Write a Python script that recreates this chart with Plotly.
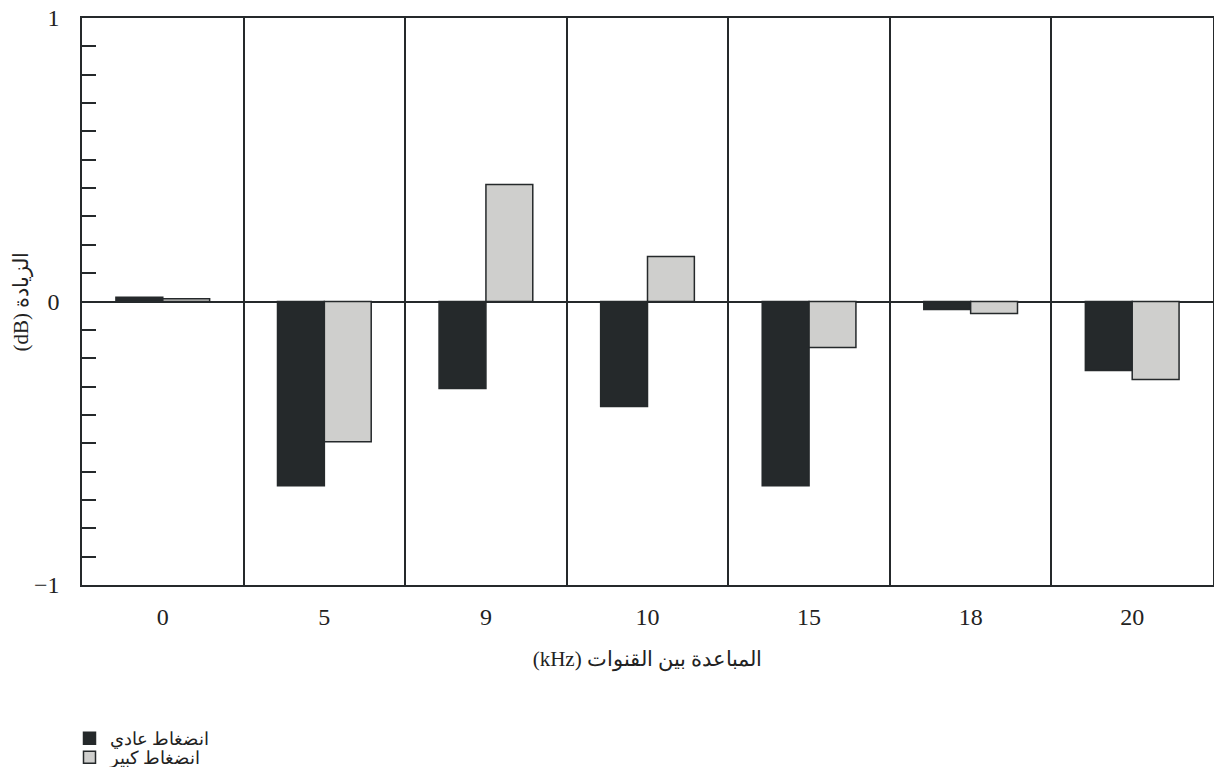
import plotly.graph_objects as go

categories = ["0", "5", "9", "10", "15", "18", "20"]
normal_compression = [0.015, -0.65, -0.307, -0.37, -0.65, -0.028, -0.243]
high_compression = [0.01, -0.495, 0.413, 0.159, -0.162, -0.042, -0.275]
series_names = ["انضغاط عادي", "انضغاط كبير"]
x_title = "المباعدة بين القنوات (kHz)"
y_title = "الزيادة (dB)"

RLE, PDF = "\u202B", "\u202C"

dark = "#25292b"
light = "#cfcfcd"
font_family = "Liberation Serif, DejaVu Serif, serif"

fig = go.Figure()
fig.add_trace(go.Bar(x=categories, y=normal_compression, name=RLE + series_names[0] + PDF,
                     legend="legend",
                     marker=dict(color=dark, line=dict(color=dark, width=1.5))))
fig.add_trace(go.Bar(x=categories, y=high_compression, name=RLE + series_names[1] + PDF,
                     legend="legend2",
                     marker=dict(color=light, line=dict(color=dark, width=1.5))))

W, H = 1214, 767
ML, MR, MT, MB = 82, 1, 18, 182
PW, PH = W - ML - MR, H - MT - MB
leg_common = dict(xanchor="left", yanchor="top", font=dict(size=18), bgcolor="rgba(0,0,0,0)")

fig.update_layout(
    width=W, height=H,
    margin=dict(l=ML, r=MR, t=MT, b=MB, autoexpand=False),
    paper_bgcolor="white", plot_bgcolor="white",
    barmode="group", bargap=0.42, bargroupgap=0,
    font=dict(family=font_family, size=24, color="#222"),
    legend=dict(x=(69.5 - ML) / PW, y=-(720 - (MT + PH)) / PH, **leg_common),
    legend2=dict(x=(69.5 - ML) / PW, y=-(739 - (MT + PH)) / PH, **leg_common),
    showlegend=True,
)
fig.update_xaxes(
    type="category", tickson="boundaries", showgrid=True, gridcolor=dark, gridwidth=1.5,
    ticks="", showline=True, linecolor=dark, linewidth=1.5, mirror=True,
    ticklabelstandoff=9, automargin=True,
    title=dict(text=RLE + x_title + PDF, font=dict(size=21), standoff=23),
)
fig.update_yaxes(
    range=[-1, 1], tickvals=[-1, 0, 1], ticktext=["−1", "0", "1"],
    ticks="inside", ticklen=14, tickwidth=1.5, tickcolor=dark,
    minor=dict(dtick=0.1, ticks="inside", ticklen=14, tickwidth=1.5, tickcolor=dark),
    showgrid=False, zeroline=True, zerolinecolor=dark, zerolinewidth=1.5,
    showline=True, linecolor=dark, linewidth=1.5, mirror=True,
    ticklabelstandoff=16, automargin=True,
    title=dict(text=RLE + y_title + PDF, font=dict(size=21), standoff=0),
)

fig.write_html("out.html", config={"displayModeBar": False},
               post_script="document.body.style.margin='0';document.body.style.overflow='hidden';")
